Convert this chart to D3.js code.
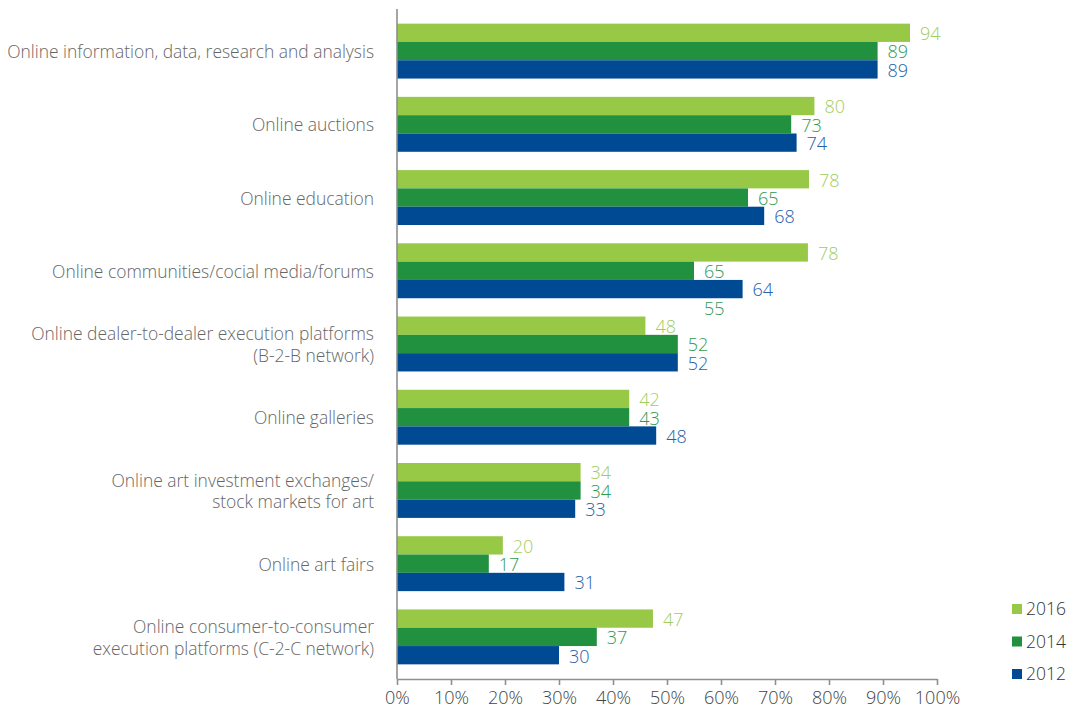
<!DOCTYPE html>
<html><head><meta charset="utf-8">
<script src="https://cdn.jsdelivr.net/npm/d3@7"></script>
<style>
body{margin:0;background:#fff}
svg{display:block}
text{font-family:"Open Sans","Noto Sans",sans-serif}
</style>
</head><body>
<svg id="chart" width="1069" height="711"></svg>
<script>
const categories = [
  "Online information, data, research and analysis",
  "Online auctions",
  "Online education",
  "Online communities/cocial media/forums",
  "Online dealer-to-dealer execution platforms\n(B-2-B network)",
  "Online galleries",
  "Online art investment exchanges/\nstock markets for art",
  "Online art fairs",
  "Online consumer-to-consumer\nexecution platforms (C-2-C network)"
];
const series = ["2016", "2014", "2012"];
const values2016 = [95, 77.3, 76.3, 76.1, 46, 43, 34, 19.6, 47.4];
const values2014 = [89, 73, 65, 55, 52, 43, 34, 17, 37];
const values2012 = [89, 74, 68, 64, 52, 48, 33, 31, 30];
const labels2016 = ["94", "80", "78", "78", "48", "42", "34", "20", "47"];
const labels2014 = ["89", "73", "65", "65", "52", "43", "34", "17", "37"];
const labels2012 = ["89", "74", "68", "64", "52", "48", "33", "31", "30"];
const strayLabels = [{category: 3, series: "2014", value: 55, text: "55", shift: 2}];
const xTicks = [0, 10, 20, 30, 40, 50, 60, 70, 80, 90, 100];

const barColors = {"2016": "#97c947", "2014": "#21903f", "2012": "#004a94"};
const labelColors = {"2016": "#9fcd5f", "2014": "#2f9a52", "2012": "#2461a9"};

const valuesBy = {"2016": values2016, "2014": values2014, "2012": values2012};
const labelsBy = {"2016": labels2016, "2014": labels2014, "2012": labels2012};

const svg = d3.select("#chart");
const x = d3.scaleLinear().domain([0, 100]).range([397, 937]);
const y = d3.scaleBand().domain(categories).range([9, 679]).paddingInner(0.25).paddingOuter(0.2);
const ys = d3.scaleBand().domain(series).range([0, y.bandwidth()]);

const rows = [];
categories.forEach((c, i) => series.forEach(s => rows.push({c, i, s, v: valuesBy[s][i], t: labelsBy[s][i]})));

// bars
svg.append("g").selectAll("rect").data(rows).join("rect")
  .attr("x", x(0))
  .attr("y", d => y(d.c) + ys(d.s))
  .attr("width", d => x(d.v) - x(0))
  .attr("height", ys.bandwidth())
  .attr("fill", d => barColors[d.s]);

// value labels
const lblSize = 18;
svg.append("g").selectAll("text").data(rows).join("text")
  .attr("x", d => x(d.v) + 10)
  .attr("y", d => y(d.c) + ys(d.s) + ys.bandwidth() / 2 + 1)
  .attr("dy", "0.35em")
  .attr("font-size", lblSize)
  .attr("font-weight", 300)
  .attr("fill", d => labelColors[d.s])
  .text(d => d.t);

svg.append("g").selectAll("text").data(strayLabels).join("text")
  .attr("x", d => x(d.value) + 10)
  .attr("y", d => y(categories[d.category]) + ys(d.series) + ys.bandwidth() * (d.shift + 0.5) + 1)
  .attr("dy", "0.35em")
  .attr("font-size", lblSize)
  .attr("font-weight", 300)
  .attr("fill", d => labelColors[d.series])
  .text(d => d.text);

// category labels
const catG = svg.append("g");
const probe = catG.append("text").attr("font-size", 16).attr("font-weight", 300).text(categories[0]);
const w16 = probe.node().getComputedTextLength();
probe.remove();
const catSize = Math.min(18, 16 * 367 / w16);
const lineH = 21.5;
categories.forEach(c => {
  const lines = c.split("\n");
  const cy = y(c) + y.bandwidth() / 2;
  const t = catG.append("text")
    .attr("text-anchor", "end")
    .attr("font-size", catSize)
    .attr("font-weight", 300)
    .attr("fill", "#666");
  lines.forEach((ln, k) => {
    t.append("tspan").attr("x", 374)
      .attr("y", cy + (k - (lines.length - 1) / 2) * lineH + 1)
      .attr("dy", "0.35em")
      .text(ln);
  });
});

// axes
svg.append("line").attr("x1", x(0)).attr("x2", x(0)).attr("y1", 9).attr("y2", 679)
  .attr("stroke", "#8f8f8f").attr("stroke-width", 1.6);

const ax = svg.append("g").attr("transform", "translate(0,679)")
  .call(d3.axisBottom(x).tickValues(xTicks).tickFormat(d => d + "%").tickSize(6).tickSizeOuter(0));
ax.select(".domain").attr("stroke", "#8f8f8f").attr("stroke-width", 1.6);
ax.selectAll(".tick line").attr("stroke", "#8f8f8f").attr("stroke-width", 1.6);
ax.selectAll(".tick text").attr("font-size", 18).attr("font-weight", 300)
  .attr("fill", "#444").attr("font-family", "'Open Sans','Noto Sans',sans-serif").attr("y", 12);

// legend
const lg = svg.append("g").attr("transform", "translate(1012,609)");
const li = lg.selectAll("g").data(series).join("g")
  .attr("transform", (d, i) => `translate(0,${i * 32.5})`);
li.append("rect").attr("x", 0).attr("y", -5).attr("width", 10).attr("height", 10)
  .attr("fill", d => barColors[d]);
li.append("text").attr("x", 14).attr("y", 0).attr("dy", "0.35em")
  .attr("font-size", 17.5).attr("font-weight", 300).attr("fill", "#333").text(d => d);
</script>
</body></html>
